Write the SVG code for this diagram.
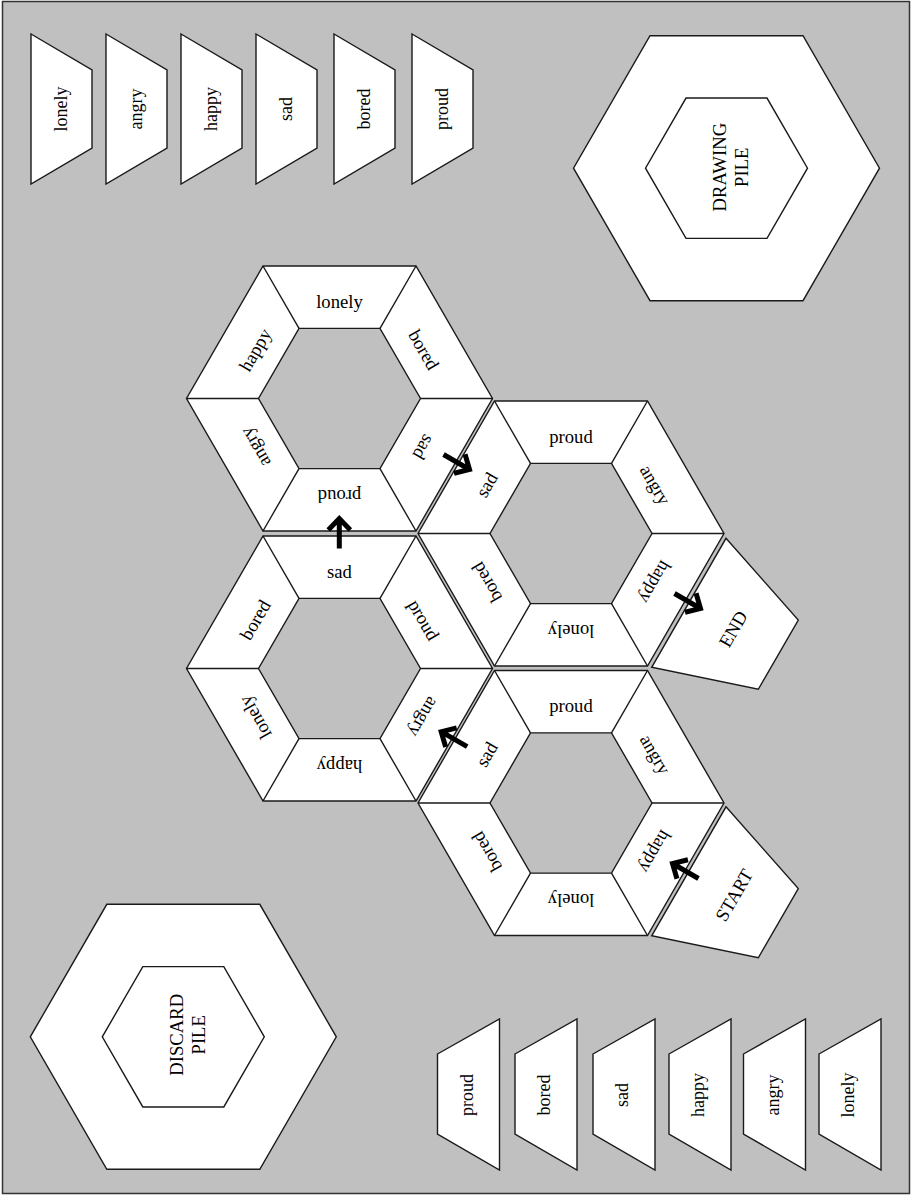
<svg xmlns="http://www.w3.org/2000/svg" xmlns:xlink="http://www.w3.org/1999/xlink" width="912" height="1195" viewBox="0 0 912 1195">
<style>
.bg{fill:#c0c0c0;stroke:#333;stroke-width:1.5}
.w{fill:#fff;stroke:#1a1a1a;stroke-width:1.4}
.g{fill:#c0c0c0;stroke:#1a1a1a;stroke-width:1.4}
.sp{fill:none;stroke:#1a1a1a;stroke-width:1.4}
text{font-family:"Liberation Serif","Times New Roman",serif;font-size:18.67px;fill:#000;text-anchor:middle}
.card text{font-size:18px}
.arr{fill:none;stroke:#000;stroke-width:5;stroke-linejoin:miter;stroke-linecap:butt}
</style>
<defs>
<g id="ring">
<polygon class="w" points="-76.5,-132.5 76.5,-132.5 153,0 76.5,132.5 -76.5,132.5 -153,0"/>
<polygon class="g" points="-40.5,-70.15 40.5,-70.15 81,0 40.5,70.15 -40.5,70.15 -81,0"/>
<path class="sp" d="M-40.5,-70.15L-76.5,-132.5M40.5,-70.15L76.5,-132.5M81,0L153,0M40.5,70.15L76.5,132.5M-40.5,70.15L-76.5,132.5M-81,0L-153,0"/>
</g>
<g id="pile">
<polygon class="w" points="-76.5,-132.5 76.5,-132.5 153,0 76.5,132.5 -76.5,132.5 -153,0"/>
<polygon class="w" points="-40.5,-70.15 40.5,-70.15 81,0 40.5,70.15 -40.5,70.15 -81,0"/>
</g>
<polygon id="tc" class="w" points="0,0 61,36 61,114 0,150"/>
<polygon id="bc" class="w" points="0,35 62,0 62,151 0,115"/>
<path id="arrow" class="arr" d="M-30,0L-1,0M-11.5,-11L0,0L-11.5,11"/>
</defs>

<rect x="0" y="0" width="912" height="1195" fill="#fff"/>
<rect class="bg" x="2.5" y="1.5" width="907" height="1192"/>

<!-- top cards -->
<g id="top-cards" class="card">
<g id="tc1" transform="translate(31,34)"><use xlink:href="#tc"/><text transform="translate(36,75) rotate(-90)">lonely</text></g>
<g id="tc2" transform="translate(106,34)"><use xlink:href="#tc"/><text transform="translate(36,75) rotate(-90)">angry</text></g>
<g id="tc3" transform="translate(181,34)"><use xlink:href="#tc"/><text transform="translate(36,75) rotate(-90)">happy</text></g>
<g id="tc4" transform="translate(256,34)"><use xlink:href="#tc"/><text transform="translate(36,75) rotate(-90)">sad</text></g>
<g id="tc5" transform="translate(334,34)"><use xlink:href="#tc"/><text transform="translate(36,75) rotate(-90)">bored</text></g>
<g id="tc6" transform="translate(412,34)"><use xlink:href="#tc"/><text transform="translate(36,75) rotate(-90)">proud</text></g>
</g>

<!-- bottom cards -->
<g id="bottom-cards" class="card">
<g id="bc1" transform="translate(437.5,1019)"><use xlink:href="#bc"/><text transform="translate(35,76) rotate(-90)">proud</text></g>
<g id="bc2" transform="translate(515,1019)"><use xlink:href="#bc"/><text transform="translate(35,76) rotate(-90)">bored</text></g>
<g id="bc3" transform="translate(593,1019)"><use xlink:href="#bc"/><text transform="translate(35,76) rotate(-90)">sad</text></g>
<g id="bc4" transform="translate(669,1019)"><use xlink:href="#bc"/><text transform="translate(35,76) rotate(-90)">happy</text></g>
<g id="bc5" transform="translate(743.5,1019)"><use xlink:href="#bc"/><text transform="translate(35,76) rotate(-90)">angry</text></g>
<g id="bc6" transform="translate(819,1019)"><use xlink:href="#bc"/><text transform="translate(35,76) rotate(-90)">lonely</text></g>
</g>

<!-- piles -->
<g id="drawing-pile" transform="translate(726.5,168.2)">
<use xlink:href="#pile"/>
<text transform="rotate(-90)" y="-1" x="1">DRAWING</text>
<text transform="rotate(-90)" y="21.5" x="1">PILE</text>
</g>
<g id="discard-pile" transform="translate(183.3,1036.8)">
<use xlink:href="#pile"/>
<text transform="rotate(-90)" y="0" x="2">DISCARD</text>
<text transform="rotate(-90)" y="22" x="2">PILE</text>
</g>

<!-- ring hexes -->
<g id="hex1" transform="translate(339.5,398.5)">
<use xlink:href="#ring"/>
<text y="-91">lonely</text>
<text transform="rotate(60)" y="-91">bored</text>
<text transform="rotate(120)" y="-91">sad</text>
<text transform="rotate(180)" y="-91">proud</text>
<text transform="rotate(240)" y="-91">angry</text>
<text transform="rotate(300)" y="-91">happy</text>
</g>
<g id="hex2" transform="translate(571,533.5)">
<use xlink:href="#ring"/>
<text y="-91">proud</text>
<text transform="rotate(60)" y="-91">angry</text>
<text transform="rotate(120)" y="-91">happy</text>
<text transform="rotate(180)" y="-91">lonely</text>
<text transform="rotate(240)" y="-91">bored</text>
<text transform="rotate(300)" y="-91">sad</text>
</g>
<g id="hex3" transform="translate(339.5,668.5)">
<use xlink:href="#ring"/>
<text y="-91">sad</text>
<text transform="rotate(60)" y="-91">proud</text>
<text transform="rotate(120)" y="-91">angry</text>
<text transform="rotate(180)" y="-91">happy</text>
<text transform="rotate(240)" y="-91">lonely</text>
<text transform="rotate(300)" y="-91">bored</text>
</g>
<g id="hex4" transform="translate(571,803)">
<use xlink:href="#ring"/>
<text y="-91">proud</text>
<text transform="rotate(60)" y="-91">angry</text>
<text transform="rotate(120)" y="-91">happy</text>
<text transform="rotate(180)" y="-91">lonely</text>
<text transform="rotate(240)" y="-91">bored</text>
<text transform="rotate(300)" y="-91">sad</text>
</g>

<!-- end / start -->
<g id="end">
<polygon class="w" points="726,538.3 798.3,620 758.3,689.3 651.7,667.3"/>
<text transform="translate(733,629) rotate(-60)" y="6.5">END</text>
</g>
<g id="start">
<polygon class="w" points="726,806.8 798.3,888.5 758.3,957.8 651.7,935.8"/>
<text transform="translate(734,895) rotate(-60)" y="6.5">START</text>
</g>

<!-- connectors -->
<g id="connectors">
<use xlink:href="#arrow" transform="translate(672.5,863.5) rotate(210)"/>
<use xlink:href="#arrow" transform="translate(441.2,731.7) rotate(210)"/>
<use xlink:href="#arrow" transform="translate(339.3,518.5) rotate(-90)"/>
<use xlink:href="#arrow" transform="translate(469.5,469.5) rotate(30)"/>
<use xlink:href="#arrow" transform="translate(700.5,608.5) rotate(30)"/>
</g>
</svg>
